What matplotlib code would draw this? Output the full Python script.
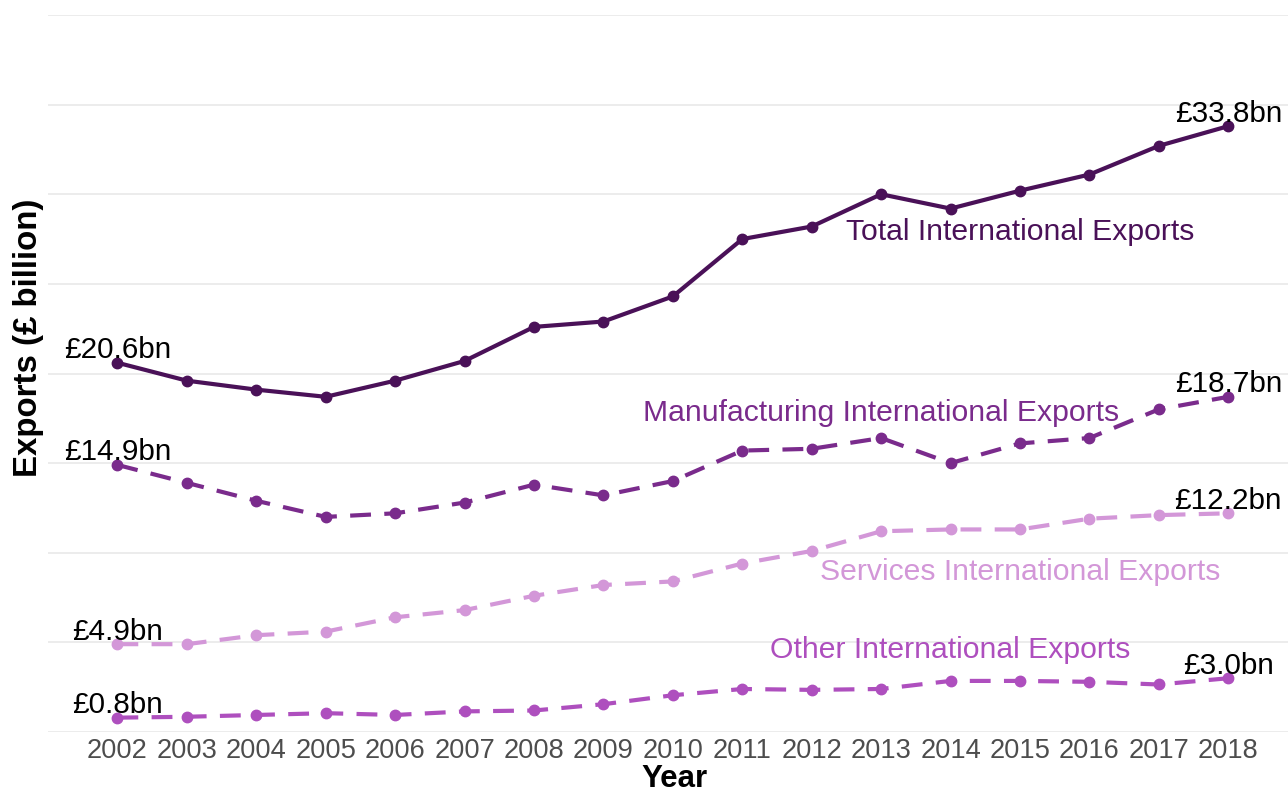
import matplotlib
matplotlib.use("Agg")
import matplotlib.pyplot as plt

plt.rcParams['font.family'] = ['Liberation Sans', 'DejaVu Sans']

years = list(range(2002, 2019))

total = [20.6, 19.6, 19.1, 18.7, 19.6, 20.7, 22.6, 22.9, 24.3, 27.5,
         28.2, 30.0, 29.2, 30.2, 31.1, 32.7, 33.8]
manufacturing = [14.9, 13.9, 12.9, 12.0, 12.2, 12.8, 13.8, 13.2, 14.0, 15.7,
                 15.8, 16.4, 15.0, 16.1, 16.4, 18.0, 18.7]
services = [4.9, 4.9, 5.4, 5.6, 6.4, 6.8, 7.6, 8.2, 8.4, 9.4,
            10.1, 11.2, 11.3, 11.3, 11.9, 12.1, 12.2]
other = [0.8, 0.85, 0.95, 1.05, 0.95, 1.15, 1.2, 1.55, 2.05, 2.4,
         2.35, 2.4, 2.85, 2.85, 2.8, 2.65, 3.0]

series_names = ["Total International Exports", "Manufacturing International Exports",
                "Services International Exports", "Other International Exports"]
colours = ["#4A1158", "#7A2B8C", "#D397D8", "#AE4FBE"]
# where each series name sits (year, value)
name_pos = [(2015, 27.9), (2013, 17.8), (2015, 8.9), (2014, 4.6)]

fig = plt.figure(figsize=(12.88, 7.94), dpi=100)
ax = fig.add_axes([48 / 1288, 1 - 732 / 794, 1 - 48 / 1288, (732 - 15) / 794])

for i, vals in enumerate([total, manufacturing, services, other]):
    ls = '-' if i == 0 else (0, (5, 3.2))
    ax.plot(years, vals, color=colours[i], lw=3, ls=ls, marker='o',
            markersize=7.5, solid_capstyle='butt', dash_capstyle='butt')
    ax.text(name_pos[i][0], name_pos[i][1], series_names[i], color=colours[i],
            fontsize=21.7, ha='center', va='center')
    # first and last values
    for j in (0, -1):
        ax.annotate('£%.1fbn' % vals[j], (years[j], vals[j]), xytext=(0, 9),
                    textcoords='offset points', ha='center', va='center',
                    fontsize=21.3, color='black')

ax.set_xlim(2001.0, 2018.86)
ax.set_ylim(0, 40)
ax.set_yticks(range(0, 41, 5))
ax.set_yticklabels([])
ax.set_xticks(years)
ax.tick_params(axis='x', length=0, labelsize=19.6, labelcolor='#4D4D4D', pad=4)
ax.tick_params(axis='y', length=0)
ax.grid(axis='y', color='#EBEBEB', lw=1.3)
ax.set_axisbelow(True)
for s in ax.spines.values():
    s.set_visible(False)

ax.set_xlabel('Year', fontsize=22.5, fontweight='bold')
ax.xaxis.set_label_coords(0.505, -0.045)
ax.set_ylabel('Exports (£ billion)', fontsize=23.8, fontweight='bold')
ax.yaxis.set_label_coords(-0.003, 0.55)

fig.savefig('out.png', dpi=100)
